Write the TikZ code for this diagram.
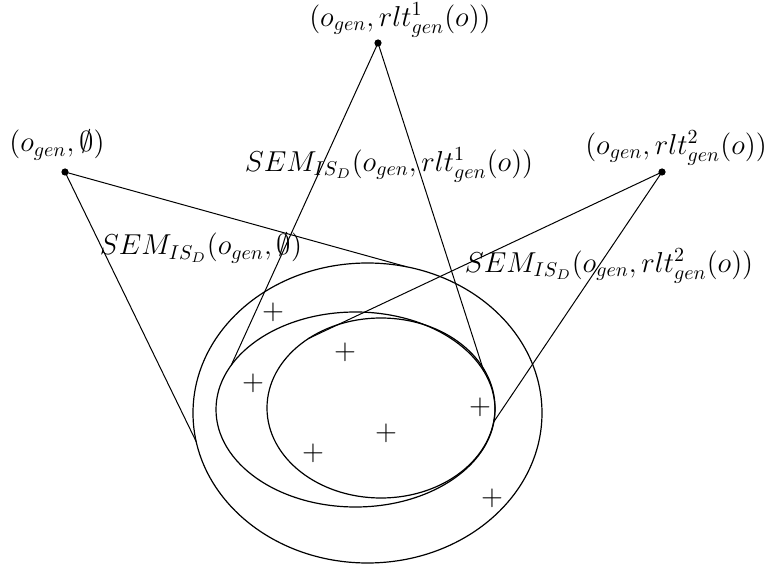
\documentclass[tikz,border=0pt]{standalone}
\usepackage{amssymb}
\usetikzlibrary{positioning,calc}

\begin{document}
\begin{tikzpicture}[x=0.5pt, y=0.5pt, line width=0.5pt, font=\fontsize{14}{17}\selectfont]
\useasboundingbox (0,0) rectangle (766,568);
\tikzset{apex/.style={circle, fill=black, inner sep=0pt, minimum size=3.6pt}, ring/.style={line width=0.6pt}}
% the three sets
\coordinate (c0) at (367.5,155);
\coordinate (c1) at (355.5,158.5);
\coordinate (c2) at (381,160);
\draw[ring] (c0) ellipse [x radius=174.5, y radius=150];
\draw[ring] (c1) ellipse [x radius=139.5, y radius=97.5];
\draw[ring] (c2) ellipse [x radius=114, y radius=90];
% apex points and their labels
\node[apex] (a0) at (65,396) {};
\node[apex] (a1) at (378,525) {};
\node[apex] (a2) at (662,396) {};
\node (l0) at (57,423) {$(o_{gen},\emptyset)$};
\node (l1) at (400,548) {$(o_{gen},rlt^1_{gen}(o))$};
\node (l2) at (676,420) {$(o_{gen},rlt^2_{gen}(o))$};
% where the lines meet the sets
\coordinate (t0a) at ($(c0)+(77:174.5 and 150)$);
\coordinate (t0b) at ($(c0)+(191:174.5 and 150)$);
\coordinate (t1a) at ($(c1)+(153:139.5 and 97.5)$);
\coordinate (t1b) at ($(c1)+(23:139.5 and 97.5)$);
\coordinate (t2a) at ($(c2)+(129.4:114 and 90)$);
\coordinate (t2b) at ($(c2)+(-9:114 and 90)$);
\draw (a0.center) -- (t0a) (a0.center) -- (t0b);
\draw (a1.center) -- (t1a) (a1.center) -- (t1b);
\draw (a2.center) -- (t2a) (a2.center) -- (t2b);
% semantics labels
\node (s0) at (201,320) {$SEM_{IS_D}(o_{gen},\emptyset)$};
\node (s1) at (389,403) {$SEM_{IS_D}(o_{gen},rlt^1_{gen}(o))$};
\node (s2) at (609,302) {$SEM_{IS_D}(o_{gen},rlt^2_{gen}(o))$};
% objects
\foreach \p/\n in {{(273,256)}/p1, {(345,216)}/p2, {(253,185)}/p3, {(480,161)}/p4, {(386,135)}/p5, {(313,115)}/p6, {(492,70)}/p7}
  \node[inner sep=0pt, font=\fontsize{15}{18}\selectfont] (\n) at \p {$+$};
\end{tikzpicture}
\end{document}
